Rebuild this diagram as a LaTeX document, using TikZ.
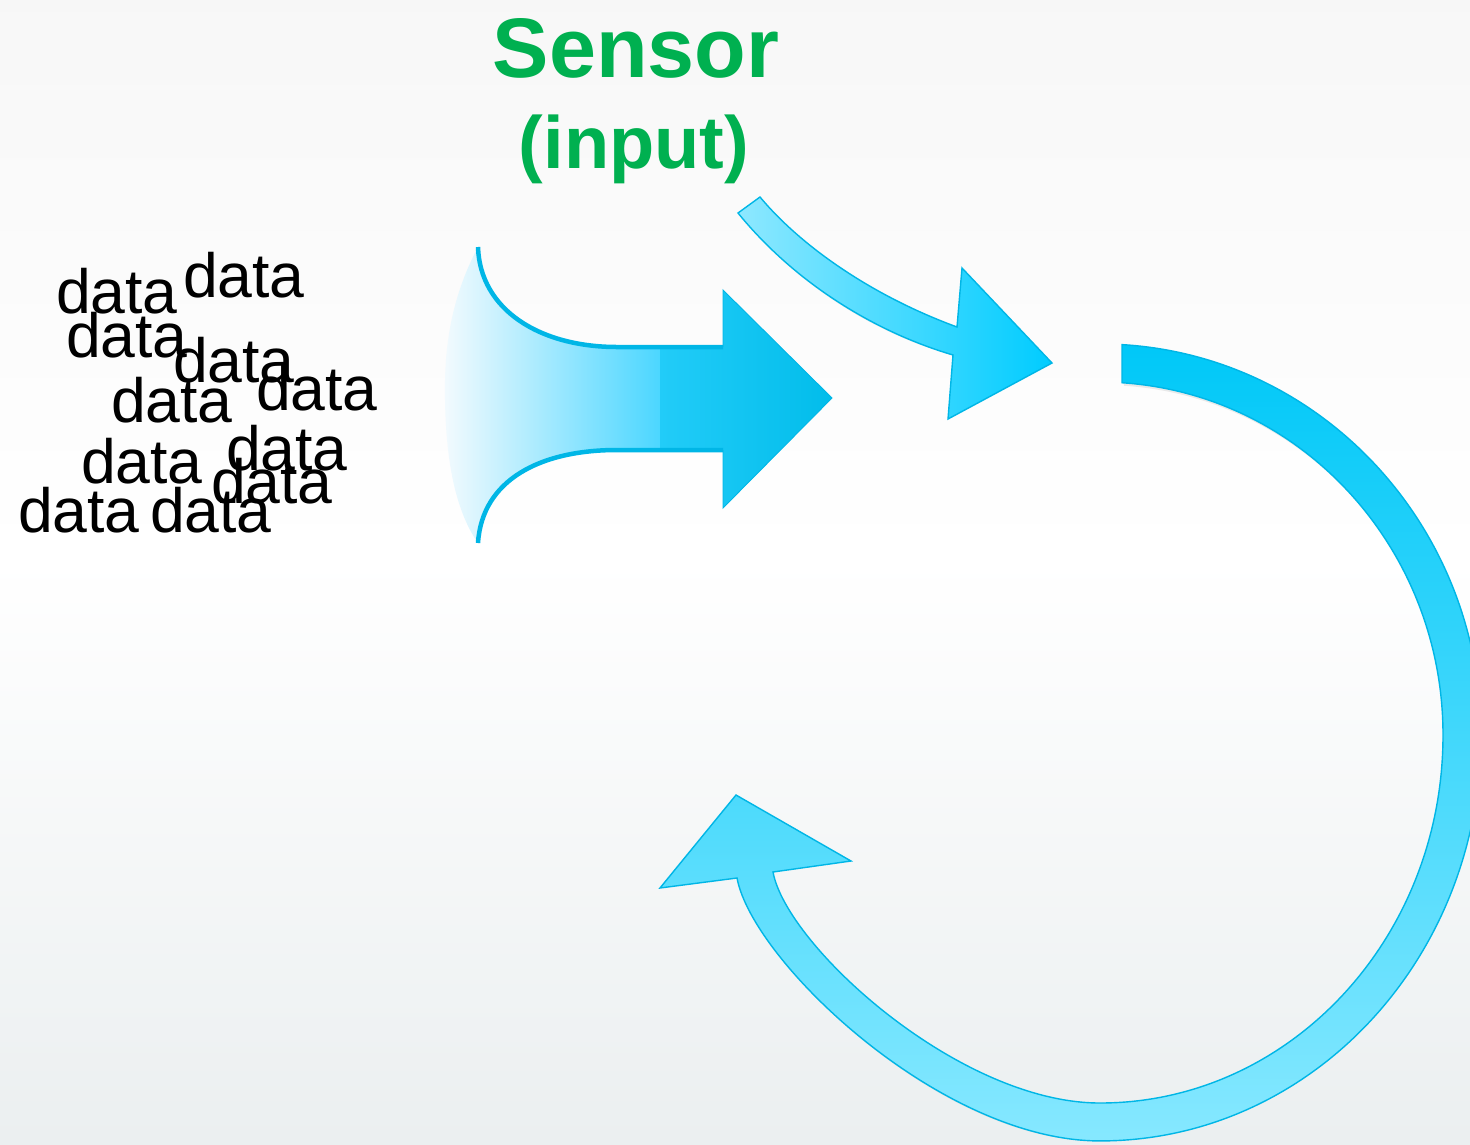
\documentclass[tikz,border=0pt]{standalone}
\usepackage{fontspec}
\setmainfont{Liberation Sans}
\definecolor{sensorG}{HTML}{00B050}
\definecolor{edgeC}{HTML}{00B6E6}
\definecolor{deepC}{HTML}{00BCEA}
\definecolor{bgLow}{RGB}{235,239,240}
\tikzset{
  dataword/.style={anchor=base west, inner sep=0pt, outer sep=0pt, text=black,
    font=\fontsize{62.5}{70}\selectfont},
  titleword/.style={anchor=base, inner sep=0pt, outer sep=0pt, text=sensorG},
  shapeedge/.style={draw=edgeC, line width=1.4pt, line join=miter},
  shadowfill/.style={fill=black, opacity=0.08},
}
\begin{document}
\begin{tikzpicture}[x=1pt,y=-1pt]
\useasboundingbox (0,0) rectangle (1470,1144);
\shade[top color=white!97!black, bottom color=white] (0,0) rectangle (1470,560);
\shade[top color=white, bottom color=bgLow] (0,559) rectangle (1470,1144);

% ---------- title ----------
\node[titleword, font=\bfseries\fontsize{84.5}{90}\selectfont] (sensor) at (636,77) {Sensor};
\node[titleword, font=\bfseries\fontsize{74}{80}\selectfont] (input) at (634,168) {(input)};

% ---------- data words ----------
\node[dataword] (d1) at (56,313) {data};
\node[dataword] (d2) at (183,297) {data};
\node[dataword] (d3) at (66,357) {data};
\node[dataword] (d4) at (173,382) {data};
\node[dataword] (d5) at (111,422) {data};
\node[dataword] (d6) at (256,410) {data};
\node[dataword] (d7) at (81,483) {data};
\node[dataword] (d8) at (226,470) {data};
\node[dataword] (d9) at (211,503) {data};
\node[dataword] (d10) at (18,532) {data};
\node[dataword] (d11) at (150,532) {data};

% ---------- big input arrow ----------
\coordinate (ta) at (478,247);
\coordinate (tb) at (617,347);
\coordinate (tc) at (723,347);
\coordinate (ba) at (478,543);
\coordinate (bb) at (617,450);
\coordinate (bc) at (723,450);
\coordinate (hu) at (723,290);
\coordinate (hl) at (723,508);
\coordinate (tip) at (832,398);
\begin{scope}
  \clip (ta) .. controls (480,310) and (540,347) .. (tb) -- (tc) -- (hu) -- (tip) -- (hl) -- (bc) -- (bb)
        .. controls (540,450) and (482,480) .. (ba)
        .. controls (455,510) and (446,460) .. (445,400)
        .. controls (444,350) and (450,300) .. (ta) -- cycle;
  \shade[left color={rgb,255:red,246;green,251;blue,254}, right color={rgb,255:red,74;green,214;blue,255}] (440,240) rectangle (662,550);
  \shade[left color={rgb,255:red,34;green,204;blue,248}, right color=deepC] (660,240) rectangle (840,550);
\end{scope}
\draw[edgeC, line width=0.9pt, line join=miter] (tc) -- (hu) -- (tip) -- (hl) -- (bc);
\draw[edgeC, line width=4.5pt] (ta) .. controls (480,310) and (540,347) .. (tb) -- (tc);
\draw[edgeC, line width=4.5pt] (ba) .. controls (482,480) and (540,450) .. (bb) -- (bc);

% ---------- small curved arrow ----------
\coordinate (s1) at (760,197);
\coordinate (s2) at (957,327);
\coordinate (s3) at (962,268);
\coordinate (s4) at (1052,363);
\coordinate (s5) at (948,419);
\coordinate (s6) at (953,355);
\coordinate (s7) at (738,213);
\fill[shadowfill, shift={(2,3)}] (s1) .. controls (800,245) and (870,295) .. (s2) -- (s3) -- (s4) -- (s5) -- (s6)
   .. controls (875,332) and (795,283) .. (s7) -- cycle;
\shade[left color={rgb,255:red,142;green,232;blue,255}, right color={rgb,255:red,0;green,204;blue,255}, shapeedge]
   (s1) .. controls (800,245) and (870,295) .. (s2) -- (s3) -- (s4) -- (s5) -- (s6)
   .. controls (875,332) and (795,283) .. (s7) -- cycle;

% ---------- big ring arrow ----------
\coordinate (r0) at (1122,344.6);
\coordinate (rEo) at (737,878);
\coordinate (rA) at (660,888);
\coordinate (rT) at (736,795);
\coordinate (rB) at (851,861);
\coordinate (rEi) at (773,872);
\def\ringpath{(r0)
  arc[start angle=273.31, end angle=360, x radius=381, y radius=391]
  arc[start angle=0, end angle=90, x radius=381, y radius=406]
  .. controls (941,1141) and (752.3,961.1) .. (rEo)
  -- (rA) -- (rT) -- (rB) -- (rEi)
  .. controls (786.5,945.7) and (959,1103) .. (1100,1103)
  arc[start angle=90, end angle=0, x radius=343, y radius=368]
  arc[start angle=360, end angle=273.68, x radius=343, y radius=353]
  -- cycle}
\fill[shadowfill, shift={(2,3)}] \ringpath;
\shade[top color={rgb,255:red,0;green,200;blue,248}, bottom color={rgb,255:red,134;green,232;blue,255}, shapeedge] \ringpath;
\end{tikzpicture}
\end{document}
